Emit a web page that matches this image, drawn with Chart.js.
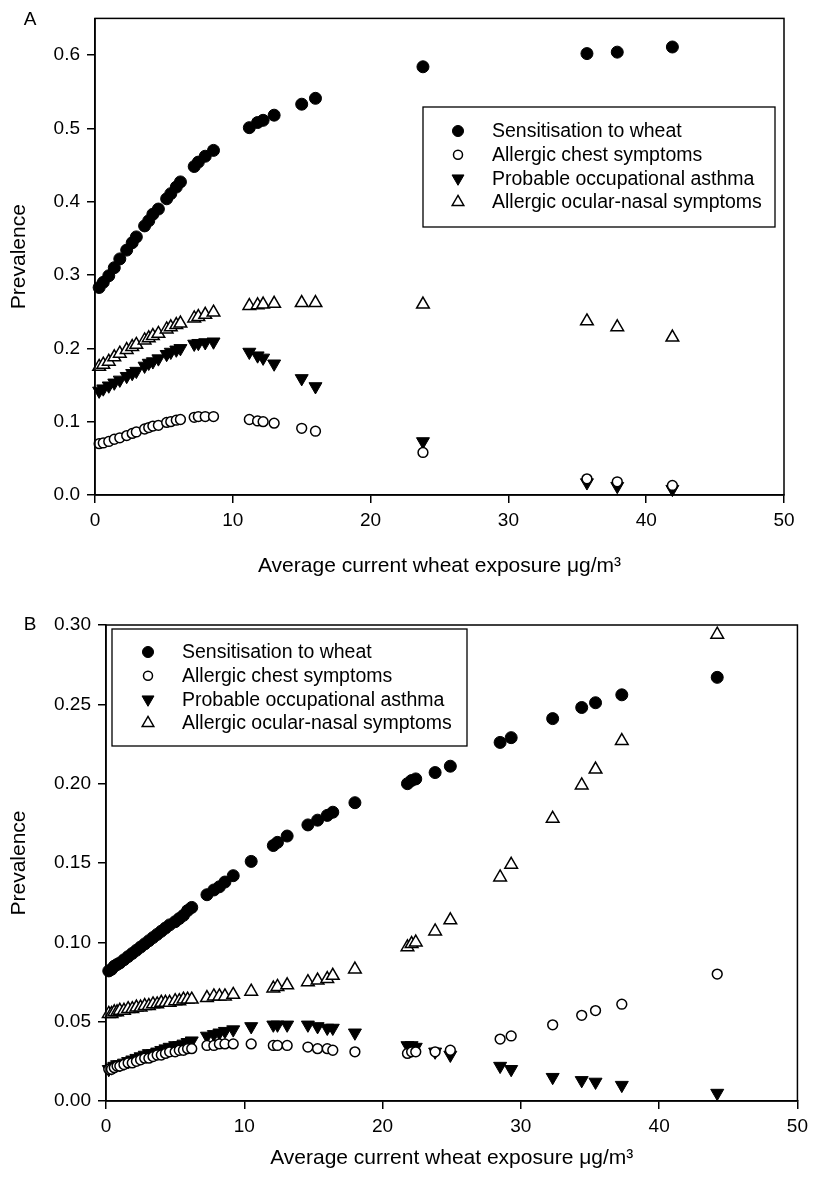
<!DOCTYPE html>
<html>
<head>
<meta charset="utf-8">
<script src="https://cdn.jsdelivr.net/npm/chart.js@4.4.1/dist/chart.umd.min.js"></script>
<style>
  html, body { margin: 0; padding: 0; background: #fff; }
  #wrap { position: relative; width: 814px; height: 1182px; }
  canvas { position: absolute; left: 0; }
</style>
</head>
<body>
<div id="wrap">
  <canvas id="chartA" width="814" height="590" style="top:0px"></canvas>
  <canvas id="chartB" width="814" height="592" style="top:590px"></canvas>
</div>
<script>
// === Data panel A ===
const xA = [0.3,0.6,1.0,1.4,1.8,2.3,2.7,3.0,3.6,3.9,4.2,4.6,5.2,5.5,5.9,6.2,7.2,7.5,8.0,8.6,11.2,11.8,12.2,13.0,15.0,16.0,23.8,35.7,37.9,41.9];
const sensA   = [0.283,0.290,0.299,0.310,0.322,0.334,0.344,0.352,0.367,0.374,0.383,0.390,0.404,0.411,0.420,0.427,0.448,0.454,0.462,0.470,0.501,0.508,0.511,0.518,0.533,0.541,0.584,0.602,0.604,0.611];
const chestA  = [0.070,0.071,0.073,0.076,0.078,0.081,0.084,0.086,0.090,0.092,0.094,0.095,0.099,0.100,0.102,0.103,0.106,0.107,0.107,0.107,0.103,0.101,0.100,0.098,0.091,0.087,0.058,0.022,0.018,0.013];
const asthmaA = [0.142,0.145,0.149,0.153,0.157,0.162,0.166,0.169,0.176,0.180,0.182,0.186,0.192,0.195,0.198,0.200,0.206,0.207,0.208,0.209,0.195,0.190,0.187,0.179,0.159,0.148,0.073,0.017,0.012,0.008];
const ocularA = [0.175,0.178,0.182,0.188,0.193,0.198,0.202,0.205,0.211,0.214,0.217,0.220,0.226,0.229,0.232,0.234,0.241,0.243,0.246,0.249,0.258,0.259,0.260,0.261,0.262,0.262,0.260,0.237,0.229,0.215];

// === Data panel B ===
const xB = [0.2,0.4,0.6,0.8,1.0,1.3,1.6,1.9,2.2,2.5,2.8,3.1,3.4,3.7,4.0,4.3,4.6,5.0,5.3,5.6,5.9,6.2,7.3,7.8,8.2,8.6,9.2,10.5,12.1,12.4,13.1,14.6,15.3,16.0,16.4,18.0,21.8,22.1,22.4,23.8,24.9,28.5,29.3,32.3,34.4,35.4,37.3,44.2];
const sensB   = [0.082,0.083,0.085,0.086,0.087,0.089,0.091,0.093,0.095,0.097,0.099,0.101,0.103,0.105,0.107,0.109,0.111,0.113,0.115,0.117,0.120,0.122,0.130,0.133,0.135,0.138,0.142,0.151,0.161,0.163,0.167,0.174,0.177,0.180,0.182,0.188,0.200,0.202,0.203,0.207,0.211,0.226,0.229,0.241,0.248,0.251,0.256,0.267];
const chestB  = [0.020,0.020,0.021,0.022,0.022,0.023,0.024,0.024,0.025,0.026,0.027,0.027,0.028,0.029,0.029,0.030,0.031,0.031,0.032,0.032,0.033,0.033,0.035,0.035,0.036,0.036,0.036,0.036,0.035,0.035,0.035,0.034,0.033,0.033,0.032,0.031,0.030,0.031,0.031,0.031,0.032,0.039,0.041,0.048,0.054,0.057,0.061,0.080];
const asthmaB = [0.020,0.021,0.022,0.023,0.023,0.024,0.025,0.026,0.027,0.028,0.029,0.030,0.030,0.031,0.032,0.033,0.034,0.035,0.035,0.036,0.037,0.038,0.041,0.042,0.043,0.044,0.045,0.047,0.048,0.048,0.048,0.048,0.047,0.046,0.046,0.043,0.035,0.035,0.034,0.031,0.029,0.022,0.020,0.015,0.013,0.012,0.010,0.005];
const ocularB = [0.055,0.055,0.056,0.056,0.057,0.057,0.058,0.058,0.059,0.059,0.060,0.060,0.061,0.061,0.062,0.062,0.062,0.063,0.063,0.064,0.064,0.064,0.065,0.066,0.066,0.066,0.067,0.069,0.071,0.072,0.073,0.075,0.076,0.077,0.079,0.083,0.097,0.099,0.100,0.107,0.114,0.141,0.149,0.178,0.199,0.209,0.227,0.294];

const labels = ['Sensitisation to wheat', 'Allergic chest symptoms', 'Probable occupational asthma', 'Allergic ocular-nasal symptoms'];
const FONT = '"Liberation Sans", Arial, sans-serif';
Chart.defaults.font.family = FONT;
Chart.defaults.color = '#000';

function pts(xs, ys){ return xs.map((x, i) => ({ x: x, y: ys[i] })); }

function makeDatasets(xs, sens, chest, asthma, ocular){
  return [
    { label: labels[0], data: pts(xs, sens),   pointStyle: 'circle',   rotation: 0,   pointRadius: 6,   backgroundColor: '#000', borderColor: '#000', borderWidth: 1 },
    { label: labels[1], data: pts(xs, chest),  pointStyle: 'circle',   rotation: 0,   pointRadius: 4.9, backgroundColor: '#fff', borderColor: '#000', borderWidth: 1.5 },
    { label: labels[2], data: pts(xs, asthma), pointStyle: 'triangle', rotation: 180, pointRadius: 7.5, backgroundColor: '#000', borderColor: '#000', borderWidth: 1 },
    { label: labels[3], data: pts(xs, ocular), pointStyle: 'triangle', rotation: 0,   pointRadius: 7.3, backgroundColor: '#fff', borderColor: '#000', borderWidth: 1.5 }
  ].map(d => Object.assign(d, { clip: false, pointHoverRadius: d.pointRadius }));
}

// === Plugin: frame, panel letter, boxed legend ===
const panelDeco = {
  id: 'panelDeco',
  afterDraw(chart, args, o){
    const ctx = chart.ctx, a = chart.chartArea;
    ctx.save();
    ctx.strokeStyle = '#000';
    ctx.lineWidth = 1.5;
    ctx.strokeRect(a.left, a.top, a.right - a.left, a.bottom - a.top);

    ctx.fillStyle = '#000';
    ctx.font = '19px ' + FONT;
    ctx.textAlign = 'center';
    ctx.textBaseline = 'middle';
    ctx.fillText(o.letter, o.lx, o.ly);

    // legend box
    const L = o.legend;
    ctx.lineWidth = 1.3;
    ctx.strokeRect(L.x, L.y, L.w, L.h);
    ctx.textAlign = 'left';
    ctx.font = '19.5px ' + FONT;
    chart.data.datasets.forEach((ds, i) => {
      const cy = L.row0 + i * L.gap;
      ctx.fillStyle = ds.backgroundColor;
      ctx.strokeStyle = ds.borderColor;
      ctx.lineWidth = ds.borderWidth;
      Chart.helpers.drawPoint(ctx, { pointStyle: ds.pointStyle, rotation: ds.rotation, radius: ds.pointRadius * 0.92, borderWidth: ds.borderWidth }, L.symX, cy);
      ctx.fillStyle = '#000';
      ctx.fillText(ds.label, L.textX, cy + 1);
    });
    ctx.restore();
  }
};

function makePanel(canvasId, datasets, p){
  const ctx = document.getElementById(canvasId).getContext('2d');
  return new Chart(ctx, {
    type: 'scatter',
    data: { datasets: datasets },
    options: {
      responsive: false, animation: false,
      layout: { padding: { top: p.top, right: p.right, left: 0, bottom: 0 } },
      plugins: {
        legend: { display: false }, tooltip: { enabled: false },
        panelDeco: { letter: p.letter, lx: p.lx, ly: p.ly, legend: p.legend }
      },
      scales: {
        x: {
          type: 'linear', min: 0, max: 50,
          ticks: { stepSize: 10, font: { size: 19 }, padding: 6, maxRotation: 0 },
          grid: { drawOnChartArea: false, color: '#000', lineWidth: 1.5, tickLength: 8 },
          border: { color: '#000', width: 1.5 },
          title: { display: true, text: 'Average current wheat exposure \u03bcg/m\u00b3', font: { size: 21 }, padding: { top: 0, bottom: p.titleBottom } },
          afterFit: s => { s.height = p.xH; }
        },
        y: {
          min: 0, max: p.yMax,
          ticks: { stepSize: p.yStep, includeBounds: false, font: { size: 19 }, padding: 7,
                   callback: v => v.toFixed(p.dec) },
          grid: { drawOnChartArea: false, color: '#000', lineWidth: 1.5, tickLength: 8 },
          border: { color: '#000', width: 1.5 },
          title: { display: true, text: 'Prevalence', font: { size: 21 }, padding: { top: 7, bottom: 0 } },
          afterFit: s => { s.width = p.yW; }
        }
      }
    },
    plugins: [panelDeco]
  });
}

// === Panel A ===
makePanel('chartA', makeDatasets(xA, sensA, chestA, asthmaA, ocularA), {
  top: 12, right: 30, xH: 95, yW: 95, titleBottom: 11,
  yMax: 0.65, yStep: 0.1, dec: 1,
  letter: 'A', lx: 30, ly: 20,
  legend: { x: 423, y: 107, w: 352, h: 120, symX: 458, textX: 492, row0: 131, gap: 23.7 }
});

// === Panel B ===
makePanel('chartB', makeDatasets(xB, sensB, chestB, asthmaB, ocularB), {
  top: 35, right: 13, xH: 81, yW: 106, titleBottom: 11,
  yMax: 0.30, yStep: 0.05, dec: 2,
  letter: 'B', lx: 30, ly: 35,
  legend: { x: 112, y: 39, w: 355, h: 117, symX: 148, textX: 182, row0: 62, gap: 23.7 }
});
</script>
</body>
</html>
